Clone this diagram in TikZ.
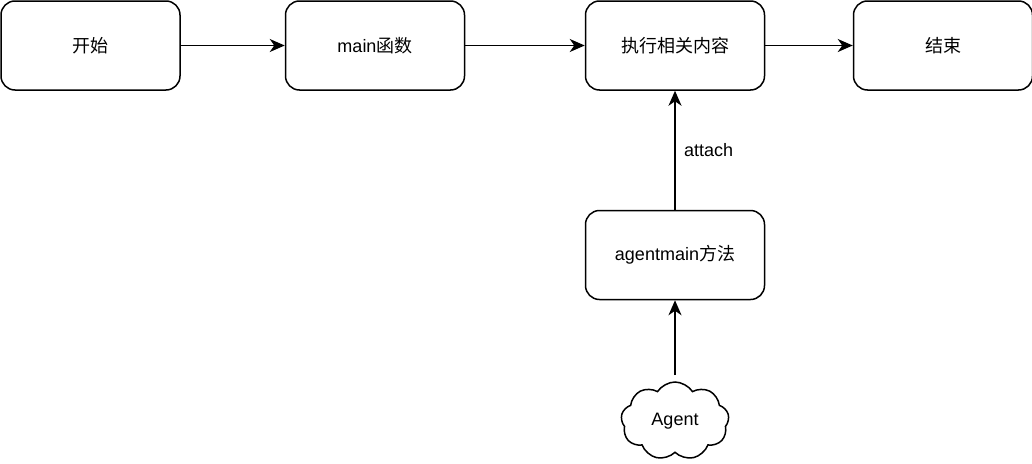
\documentclass[tikz,border=0pt]{standalone}
\usepackage{fontspec}
\setmainfont{Liberation Sans}
\newfontfamily\cjk{Noto Sans CJK SC}
\usetikzlibrary{arrows.meta,shapes.symbols}
\begin{document}
\begin{tikzpicture}[x=1pt,y=-1pt,
  box/.style={draw, line width=1.5pt, rounded corners=14pt, minimum width=179pt, minimum height=89pt, inner sep=0pt, font=\fontsize{18}{21}\selectfont},
  arr/.style={line width=1.5pt, -{Stealth[length=15pt,width=13pt,inset=4.5pt]}},
  lbl/.style={font=\fontsize{18}{21}\selectfont}]
\useasboundingbox (0,0) rectangle (1032,463);
\node[box] (start) at (90.5,45.5) {\cjk 开始};
\node[box] (main) at (375,45.5) {main\cjk 函数};
\node[box] (exec) at (675,45.5) {\cjk 执行相关内容};
\node[box] (end) at (943,45.5) {\cjk 结束};
\node[box] (agentmain) at (675,255) {agentmain\cjk 方法};
\node[cloud, draw, line width=1.5pt, cloud puffs=9, cloud puff arc=115, aspect=1.4, minimum width=108pt, minimum height=78pt, inner sep=0pt, lbl] (agent) at (675,421) {Agent};
\coordinate (agtop) at (675,375);
\draw[arr] (start) -- (main);
\draw[arr] (main) -- (exec);
\draw[arr] (exec) -- (end);
\draw[arr] (agentmain) -- node[lbl, right, xshift=5pt] {attach} (exec);
\draw[arr] (agtop) -- (agentmain);
\end{tikzpicture}
\end{document}
